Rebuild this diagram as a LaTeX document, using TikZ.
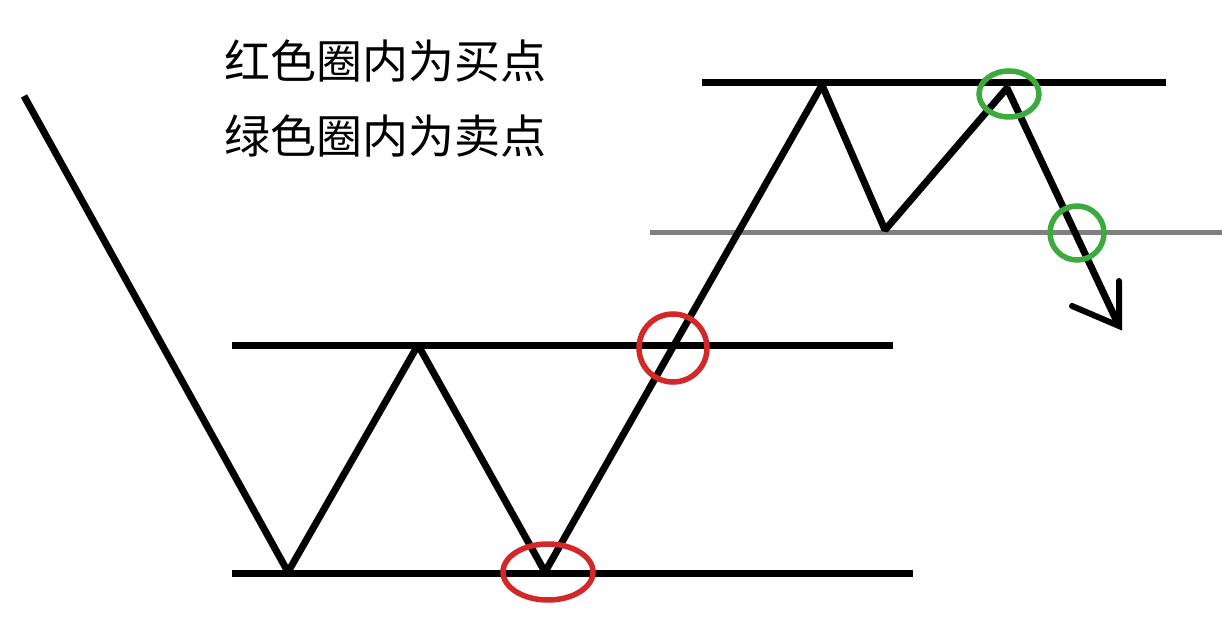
\documentclass[tikz,border=0pt]{standalone}
\usepackage{fontspec}
\newfontfamily\cjk{Noto Sans CJK SC}
\definecolor{ringred}{RGB}{212,40,40}
\definecolor{ringgreen}{RGB}{60,170,60}
\definecolor{levelgray}{RGB}{128,128,128}
\begin{document}
\begin{tikzpicture}[x=1pt,y=-1pt,
  level/.style={line width=7pt,black},
  graylevel/.style={line width=5pt,levelgray},
  price/.style={line width=7pt,black,line join=bevel},
  ring/.style={line width=5.5pt},
  label/.style={anchor=west,inner sep=0pt,font=\cjk\fontsize{46}{46}\selectfont}]
\useasboundingbox (0,0) rectangle (1222,620);
\fill[white] (0,0) rectangle (1222,620);
% support / resistance levels
\coordinate (b1) at (232,573); \coordinate (b2) at (913,573);
\coordinate (m1) at (232,345); \coordinate (m2) at (893,345);
\coordinate (t1) at (702,83);  \coordinate (t2) at (1166,83);
\coordinate (g1) at (650,233); \coordinate (g2) at (1222,233);
\draw[level] (b1) -- (b2);
\draw[level] (m1) -- (m2);
\draw[level] (t1) -- (t2);
\draw[graylevel] (g1) -- (g2);
% price path
\coordinate (p0) at (24,96);
\coordinate (p1) at (288,572);
\coordinate (p2) at (418,345);
\coordinate (p3) at (545,572);
\coordinate (p4) at (822,85);
\coordinate (p5) at (885,230);
\coordinate (p6) at (1007,88);
\coordinate (tip) at (1119,326);
\coordinate (barbL) at (1072,306);
\coordinate (barbU) at (1119,281);
\draw[price] (p0) -- (p1) -- (p2) -- (p3) -- (p4) -- (p5) -- (p6) -- (tip);
\draw[line width=6pt,line cap=round] (barbL) -- (tip) -- (barbU);
% rings
\draw[ring,ringred] (548,572) ellipse [x radius=45, y radius=28];
\draw[ring,ringred] (673,348) ellipse [x radius=34, y radius=34];
\draw[ring,ringgreen] (1009,94) ellipse [x radius=30, y radius=23];
\draw[ring,ringgreen] (1077,233) ellipse [x radius=27, y radius=27];
% labels
\node[label] (l1) at (224,61) {红色圈内为买点};
\node[label] (l2) at (224,136) {绿色圈内为卖点};
\end{tikzpicture}
\end{document}
